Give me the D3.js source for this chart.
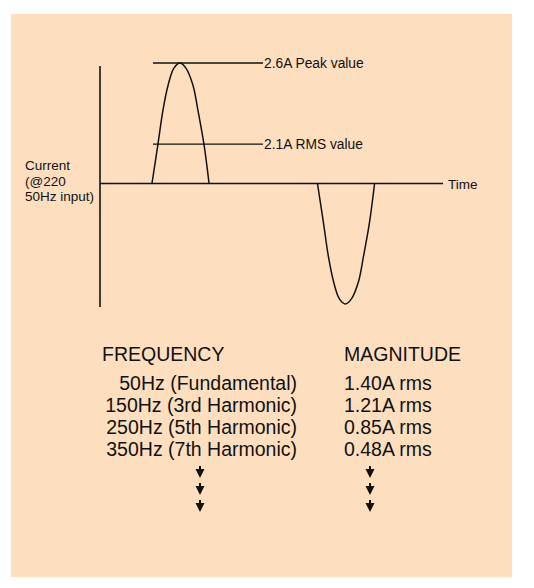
<!DOCTYPE html>
<html>
<head>
<meta charset="utf-8">
<script src="https://cdn.jsdelivr.net/npm/d3@7"></script>
<style>
  body { margin: 0; background: #fff; }
  text { font-family: "Liberation Sans", Arial, sans-serif; fill: #111; }
</style>
</head>
<body>
<svg width="534" height="588"></svg>
<script>
// waveform samples: [time ms, current A]
var pulsePos = [[3.03,0],[3.38,0.85],[3.67,1.58],[3.97,2.12],[4.31,2.49],[4.66,2.6],[5.01,2.49],[5.42,2.12],[5.71,1.58],[6.06,0.85],[6.36,0]];
var pulseNeg = [[12.68,0],[13.03,-0.85],[13.32,-1.58],[13.62,-2.12],[13.96,-2.49],[14.31,-2.6],[14.66,-2.49],[15.07,-2.12],[15.36,-1.58],[15.71,-0.85],[16.01,0]];
// marker lines: drawn level and label
var markerLevels = [2.6, 0.85];
var markerLabels = ["2.6A Peak value", "2.1A RMS value"];
// harmonic table
var freqLabels = ["50Hz (Fundamental)", "150Hz (3rd Harmonic)", "250Hz (5th Harmonic)", "350Hz (7th Harmonic)"];
var magnitudes = ["1.40A rms", "1.21A rms", "0.85A rms", "0.48A rms"];

var svg = d3.select("svg");
svg.append("rect").attr("x", 11).attr("y", 14).attr("width", 501).attr("height", 563).attr("fill", "#fddfc0");

var x = d3.scaleLinear().domain([0, 20]).range([100, 443]);
var y = d3.scaleLinear().domain([-2.6, 2.6]).range([304, 63]);

// axes
svg.append("line").attr("x1", 100).attr("x2", 100).attr("y1", 66).attr("y2", 307).attr("stroke", "#111").attr("stroke-width", 1.6);
svg.append("line").attr("x1", 100).attr("x2", x(20)).attr("y1", y(0)).attr("y2", y(0)).attr("stroke", "#111").attr("stroke-width", 1.6);
svg.append("text").attr("x", 448).attr("y", y(0) + 5).attr("font-size", 13.5).text("Time");

var lab = svg.append("text").attr("x", 25).attr("y", 170).attr("font-size", 13.5);
["Current", "(@220", "50Hz input)"].forEach(function(s, i) {
  lab.append("tspan").attr("x", 25).attr("dy", i ? 15.5 : 0).text(s);
});

var line = d3.line().x(function(d){ return x(d[0]); }).y(function(d){ return y(d[1]); }).curve(d3.curveCatmullRom);
[pulsePos, pulseNeg].forEach(function(p) {
  svg.append("path").attr("d", line(p)).attr("fill", "none").attr("stroke", "#111").attr("stroke-width", 1.5);
});

markerLevels.forEach(function(v, i) {
  svg.append("line").attr("x1", 153).attr("x2", 263).attr("y1", y(v)).attr("y2", y(v)).attr("stroke", "#111").attr("stroke-width", 1.4);
  svg.append("text").attr("x", 264).attr("y", y(v) + 5).attr("font-size", 13.8).text(markerLabels[i]);
});

// table
svg.append("text").attr("x", 102).attr("y", 361).attr("font-size", 19.5).text("FREQUENCY");
svg.append("text").attr("x", 344).attr("y", 361).attr("font-size", 19.5).text("MAGNITUDE");
var rowY = d3.scalePoint().domain(d3.range(freqLabels.length)).range([390, 456]);
freqLabels.forEach(function(s, i) {
  svg.append("text").attr("x", 297).attr("y", rowY(i)).attr("text-anchor", "end").attr("font-size", 19.5).text(s);
  svg.append("text").attr("x", 344).attr("y", rowY(i)).attr("font-size", 19.5).text(magnitudes[i]);
});

[200, 370].forEach(function(cx) {
  [466, 483, 500].forEach(function(ty) {
    svg.append("rect").attr("x", cx - 1).attr("y", ty).attr("width", 2).attr("height", 5).attr("fill", "#111");
    svg.append("path").attr("d", "M" + (cx - 4.5) + "," + (ty + 3) + "h9l-4.5,9z").attr("fill", "#111");
  });
});
</script>
</body>
</html>
